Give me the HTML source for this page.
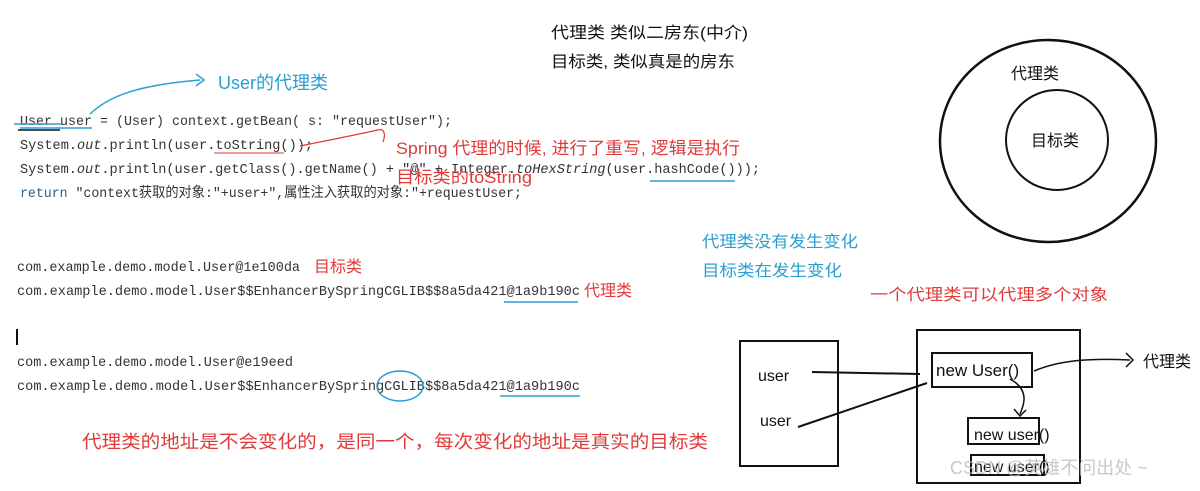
<!DOCTYPE html>
<html><head><meta charset="utf-8"><style>
body{margin:0;background:#fff;}
svg{display:block}
.m{font-family:"Liberation Mono",monospace;font-size:14px;fill:#333}
.c{font-family:"Liberation Sans","Noto Sans CJK SC",sans-serif;}
</style></head><body>
<svg width="1200" height="491" viewBox="0 0 1200 491" xmlns="http://www.w3.org/2000/svg">
<rect width="1200" height="491" fill="#fff"/>
<text class="c" x="551" y="38" font-size="16" fill="#111" textLength="197" lengthAdjust="spacingAndGlyphs">代理类  类似二房东(中介)</text>
<text class="c" x="551" y="67" font-size="16" fill="#111" textLength="184" lengthAdjust="spacingAndGlyphs">目标类, 类似真是的房东</text>
<path d="M90 114 C110 95,140 85,200 80" stroke="#2a9fd0" stroke-width="1.5" fill="none"/>
<path d="M196 74 L204 80 L196 86" stroke="#2a9fd0" stroke-width="1.5" fill="none"/>
<text class="c" x="218" y="89" font-size="18" fill="#2a9fd0">User的代理类</text>
<text class="m" x="20" y="125" textLength="432" lengthAdjust="spacingAndGlyphs">User user = (User) context.getBean( s: "requestUser");</text>
<text class="m" x="20" y="149" textLength="293" lengthAdjust="spacingAndGlyphs">System.<tspan font-style="italic">out</tspan>.println(user.toString());</text>
<text class="m" x="20" y="173" textLength="740" lengthAdjust="spacingAndGlyphs">System.<tspan font-style="italic">out</tspan>.println(user.getClass().getName() + "@" + Integer.<tspan font-style="italic">toHexString</tspan>(user.hashCode()));</text>
<text class="m" x="20" y="197" textLength="502" lengthAdjust="spacingAndGlyphs" fill="#444"><tspan fill="#2b5f8a">return</tspan> "context获取的对象:"+user+",属性注入获取的对象:"+requestUser;</text>
<path d="M14 124 L62 124 M20 128 L92 128" stroke="#2a9fd0" stroke-width="1.5"/>
<path d="M18 130 L60 130" stroke="#111" stroke-width="1.5"/>
<path d="M214 153 L284 153" stroke="#e03a3a" stroke-width="1"/>
<path d="M300 146 C330 140,360 134,378 130 C384 128,386 134,383 142" stroke="#e03a3a" stroke-width="1.2" fill="none"/>
<path d="M650 181 L735 181" stroke="#2a9fd0" stroke-width="1.5"/>
<text class="c" x="396" y="154" font-size="17" fill="#e03a3a" textLength="344" lengthAdjust="spacingAndGlyphs">Spring  代理的时候, 进行了重写, 逻辑是执行</text>
<text class="c" x="396" y="183" font-size="17" fill="#e03a3a" textLength="136" lengthAdjust="spacingAndGlyphs">目标类的toString</text>
<text class="m" x="17" y="271" textLength="283" lengthAdjust="spacingAndGlyphs">com.example.demo.model.User@1e100da</text>
<text class="c" x="314" y="272" font-size="16" fill="#e03a3a">目标类</text>
<text class="m" x="17" y="295" textLength="563" lengthAdjust="spacingAndGlyphs">com.example.demo.model.User$$EnhancerBySpringCGLIB$$8a5da421@1a9b190c</text>
<text class="c" x="584" y="296" font-size="16" fill="#e03a3a">代理类</text>
<path d="M504 302 L578 302" stroke="#2a9fd0" stroke-width="1.5"/>
<rect x="16" y="329" width="2" height="16" fill="#111"/>
<text class="m" x="17" y="366" textLength="276" lengthAdjust="spacingAndGlyphs">com.example.demo.model.User@e19eed</text>
<text class="m" x="17" y="390" textLength="563" lengthAdjust="spacingAndGlyphs">com.example.demo.model.User$$EnhancerBySpringCGLIB$$8a5da421@1a9b190c</text>
<ellipse cx="400" cy="386" rx="23" ry="15" stroke="#2a9fd0" stroke-width="1.5" fill="none"/>
<path d="M500 396 L580 396" stroke="#2a9fd0" stroke-width="1.5"/>
<text class="c" x="82" y="448" font-size="18" fill="#e03a3a" textLength="626" lengthAdjust="spacingAndGlyphs">代理类的地址是不会变化的，是同一个，每次变化的地址是真实的目标类</text>
<text class="c" x="702" y="247" font-size="16" fill="#2a9fd0" textLength="156" lengthAdjust="spacingAndGlyphs">代理类没有发生变化</text>
<text class="c" x="702" y="276" font-size="16" fill="#2a9fd0" textLength="140" lengthAdjust="spacingAndGlyphs">目标类在发生变化</text>
<text class="c" x="870" y="300" font-size="16" fill="#e03a3a" textLength="238" lengthAdjust="spacingAndGlyphs">一个代理类可以代理多个对象</text>
<ellipse cx="1048" cy="141" rx="108" ry="101" stroke="#111" stroke-width="2.5" fill="none"/>
<ellipse cx="1057" cy="140" rx="51" ry="50" stroke="#111" stroke-width="2" fill="none"/>
<text class="c" x="1011" y="79" font-size="16" fill="#111">代理类</text>
<text class="c" x="1031" y="146" font-size="16" fill="#111">目标类</text>
<rect x="740" y="341" width="98" height="125" stroke="#111" stroke-width="2" fill="none"/>
<rect x="917" y="330" width="163" height="153" stroke="#111" stroke-width="2" fill="none"/>
<rect x="932" y="353" width="100" height="34" stroke="#111" stroke-width="2" fill="none"/>
<rect x="968" y="418" width="71" height="26" stroke="#111" stroke-width="2" fill="none"/>
<rect x="971" y="455" width="73" height="20" stroke="#111" stroke-width="2" fill="none"/>
<text class="c" x="758" y="381" font-size="16" fill="#111">user</text>
<text class="c" x="760" y="426" font-size="16" fill="#111">user</text>
<text class="c" x="936" y="376" font-size="17" fill="#111">new User()</text>
<text class="c" x="974" y="440" font-size="16" fill="#111">new user()</text>
<text class="c" x="974" y="472" font-size="16" fill="#111">new user()</text>
<path d="M812 372 L920 374 M798 427 L927 383" stroke="#111" stroke-width="2" fill="none"/>
<path d="M1010 379 C1030 390,1024 405,1020 414 M1014 409 L1020 416 L1026 410" stroke="#111" stroke-width="1.5" fill="none"/>
<path d="M1034 371 C1060 360,1090 358,1130 360 M1126 353 L1133 360 L1126 367" stroke="#111" stroke-width="1.5" fill="none"/>
<text class="c" x="1143" y="367" font-size="16" fill="#111">代理类</text>
<text class="c" x="950" y="474" font-size="18" fill="#bbb" opacity="0.8">CSDN @英雄不问出处 ~</text>
</svg>
</body></html>
